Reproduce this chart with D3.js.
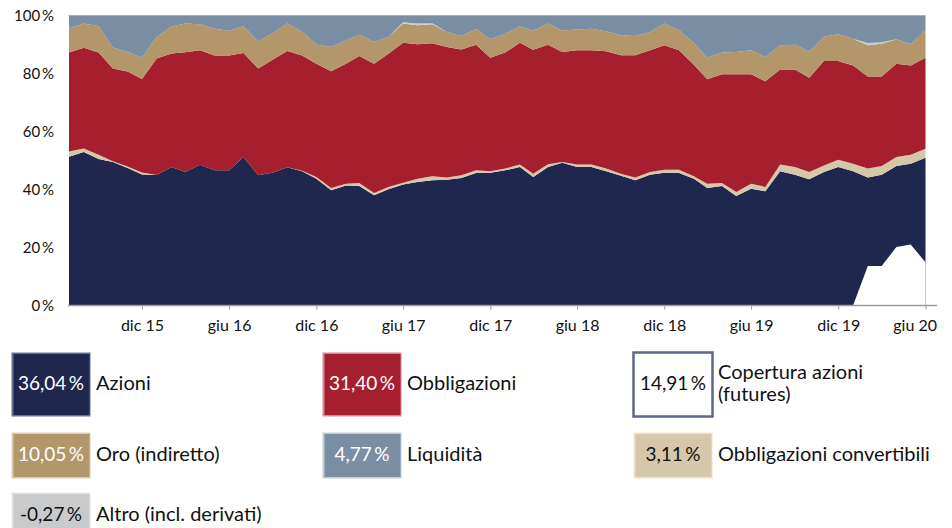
<!DOCTYPE html>
<html lang="it">
<head>
<meta charset="utf-8">
<script src="https://cdn.jsdelivr.net/npm/d3@7"></script>
<style>
  html, body { margin: 0; padding: 0; background: #ffffff; }
  svg { display: block; font-family: Lato, "Open Sans", sans-serif; }
</style>
</head>
<body>
<svg id="chart" width="952" height="528"></svg>
<script>
// Asset allocation, monthly, lug 2015 – giu 2020 (percent of portfolio)
const azioni = [51.3, 52.9, 50.5, 49.5, 47.4, 45.2, 45.0, 47.8, 46.0, 48.5, 46.6, 46.6,
  51.2, 44.9, 45.9, 47.7, 46.3, 43.7, 39.7, 41.4, 41.2, 38.0, 40.1, 41.7,
  42.6, 43.2, 43.4, 44.0, 45.7, 45.8, 46.6, 47.8, 44.3, 47.8, 49.2, 47.8,
  47.8, 46.3, 44.7, 43.2, 45.1, 45.8, 45.7, 43.7, 40.5, 41.2, 37.8, 40.3,
  39.4, 46.3, 45.1, 43.5, 46.0, 47.8, 46.3, 30.5, 31.5, 27.9, 27.9, 36.04];
const copertura = [0, 0, 0, 0, 0, 0, 0, 0, 0, 0, 0, 0,
  0, 0, 0, 0, 0, 0, 0, 0, 0, 0, 0, 0,
  0, 0, 0, 0, 0, 0, 0, 0, 0, 0, 0, 0,
  0, 0, 0, 0, 0, 0, 0, 0, 0, 0, 0, 0,
  0, 0, 0, 0, 0, 0, 0, 13.6, 13.6, 20.2, 21.0, 14.91];
const convertibili = [1.8, 1.2, 1.5, 0.2, 0.5, 0.7, 0, 0, 0, 0, 0, 0,
  0, 0, 0, 0, 0.2, 0.6, 0.8, 0.6, 1.0, 0.8, 0.8, 0.6,
  1.1, 1.4, 0.7, 0.9, 0.9, 0.5, 0.6, 0.8, 1.1, 0.9, 0.3, 0.8,
  0.8, 0.9, 0.7, 0.9, 0.9, 1.0, 1.1, 0.9, 1.5, 1.0, 1.3, 1.7,
  1.5, 2.3, 2.7, 2.5, 2.3, 2.5, 2.6, 3.1, 3.0, 3.1, 3.1, 3.11];
const obbligazioni = [34.1, 34.8, 35.2, 32.0, 32.8, 32.2, 40.2, 39.1, 41.3, 39.5, 39.6, 39.6,
  35.9, 36.8, 38.9, 40.1, 39.7, 39.1, 40.3, 41.4, 43.8, 44.6, 45.9, 48.3,
  46.4, 45.8, 45.0, 43.4, 43.3, 39.1, 40.0, 42.0, 42.8, 41.2, 37.9, 39.4,
  39.4, 40.5, 40.9, 42.2, 42.0, 42.9, 41.2, 38.4, 36.0, 37.5, 40.6, 37.7,
  36.4, 32.8, 33.6, 32.5, 36.0, 34.0, 33.9, 31.8, 30.9, 32.2, 30.8, 31.40];
const oro = [8.3, 8.3, 9.2, 7.3, 6.7, 7.3, 7.4, 9.3, 9.9, 9.0, 9.2, 8.5,
  9.2, 9.3, 9.2, 9.4, 8.2, 6.6, 8.3, 8.0, 7.4, 7.5, 5.8, 6.6,
  6.5, 6.6, 5.2, 4.6, 5.4, 6.4, 6.5, 5.7, 6.5, 7.3, 7.4, 7.2,
  7.4, 6.9, 6.9, 6.6, 6.3, 7.5, 6.9, 7.5, 7.4, 7.5, 7.7, 8.3,
  8.4, 8.3, 8.5, 9.0, 8.5, 9.2, 9.2, 10.7, 11.3, 8.4, 7.3, 10.05];
const altro = [0, 0, 0, 0, 0, 0, 0, 0, 0, 0, 0, 0,
  0, 0, 0, 0, 0, 0, 0, 0, 0, 0, 0, 0.5,
  0.6, 0.3, 0, 0, 0, 0, 0, 0, 0, 0, 0, 0,
  0, 0, 0, 0, 0, 0, 0, 0, 0, 0, 0, 0,
  0, 0, 0, 0, 0, 0, 0, 0.8, 0.5, 0, 0, -0.27];
const liquidita = [4.5, 2.8, 3.6, 11.0, 12.6, 14.6, 7.4, 3.8, 2.8, 3.0, 4.6, 5.3,
  3.7, 9.0, 6.0, 2.8, 5.6, 10.0, 10.9, 8.6, 6.6, 9.1, 7.4, 2.3,
  2.8, 2.7, 5.7, 7.1, 4.7, 8.2, 6.3, 3.7, 5.3, 2.8, 5.2, 4.8,
  4.6, 5.4, 6.8, 7.1, 5.7, 2.8, 5.1, 9.5, 14.6, 12.8, 12.6, 12.0,
  14.3, 10.3, 10.1, 12.5, 7.2, 6.5, 8.0, 9.5, 9.2, 8.2, 9.9, 4.77];

const tickLabels = ["dic 15", "giu 16", "dic 16", "giu 17", "dic 17",
  "giu 18", "dic 18", "giu 19", "dic 19", "giu 20"];
const yTicks = [0, 20, 40, 60, 80, 100];

const mesi = d3.timeMonth.range(new Date(2015, 6, 1), new Date(2020, 6, 1));
// one tick every six months, from December 2015
const tickDates = tickLabels.map((_, k) => new Date(2015, 11 + 6 * k, 1));

const colori = {
  azioni: "#1f274f",
  convertibili: "#d5c8a8",
  obbligazioni: "#a51f2e",
  oro: "#b3976a",
  altro: "#c9cacc",
  liquidita: "#7a8fa3"
};

const svg = d3.select("#chart");
const x = d3.scaleTime().domain([mesi[0], mesi[mesi.length - 1]]).range([69, 925.5]);
const y = d3.scaleLinear().domain([0, 100]).range([305.5, 15.5]);

// gross equity exposure = net equity + hedged part
const righe = mesi.map((m, i) => ({
  mese: m,
  azioni: azioni[i] + copertura[i],
  convertibili: convertibili[i],
  obbligazioni: obbligazioni[i],
  oro: oro[i],
  altro: altro[i],
  liquidita: liquidita[i]
}));

const chiavi = ["azioni", "convertibili", "obbligazioni", "oro", "altro", "liquidita"];
const serie = d3.stack().keys(chiavi)(righe);

const area = d3.area()
  .x(d => x(d.data.mese))
  .y0(d => y(d[0]))
  .y1(d => y(d[1]));

// top reference line at 100 %
svg.append("line")
  .attr("x1", 68).attr("x2", 926)
  .attr("y1", y(100)).attr("y2", y(100))
  .attr("stroke", "#cfd3d8").attr("stroke-width", 1.2);

svg.append("g").selectAll("path")
  .data(serie)
  .join("path")
  .attr("fill", d => colori[d.key])
  .attr("d", area);

// equity futures hedge, shown as a cut-out from the equity layer
const areaCopertura = d3.area()
  .defined((d, i) => copertura[i] > 0 || (copertura[i + 1] || 0) > 0)
  .x((d, i) => x(mesi[i]))
  .y0(y(0))
  .y1(d => y(d));
svg.append("path")
  .datum(copertura)
  .attr("fill", "#ffffff")
  .attr("d", areaCopertura);

// x axis
const xAxis = d3.axisBottom(x)
  .tickValues(tickDates)
  .tickFormat((d, i) => tickLabels[i])
  .tickSize(4)
  .tickPadding(10);
const gx = svg.append("g")
  .attr("transform", `translate(0,${y(0)})`)
  .call(xAxis);
gx.select(".domain").remove();
gx.insert("line", ":first-child")
  .attr("x1", 68).attr("x2", 937)
  .attr("stroke", "#9a9a9a").attr("stroke-width", 1.5);
gx.selectAll(".tick line").attr("stroke", "#9a9a9a");
gx.selectAll(".tick text")
  .attr("fill", "#111")
  .style("font-size", "16px")
  .style("font-family", "Lato, 'Open Sans', sans-serif");
// keep the last label inside the frame
gx.selectAll(".tick text")
  .filter((d, i) => i === tickLabels.length - 1)
  .attr("text-anchor", "end")
  .attr("x", 11);

// y axis labels
const yAxis = d3.axisLeft(y)
  .tickValues(yTicks)
  .tickFormat(d => d + "\u2009%")
  .tickSize(0)
  .tickPadding(0);
const gy = svg.append("g")
  .attr("transform", "translate(54,0)")
  .call(yAxis);
gy.select(".domain").remove();
gy.selectAll(".tick text")
  .attr("fill", "#111")
  .style("font-size", "15px")
  .style("font-family", "Lato, 'Open Sans', sans-serif");

// legend
const fmt = v => v.toFixed(2).replace(".", ",") + "\u2009%";
const ultimo = a => a[a.length - 1];
const legenda = [
  { val: ultimo(azioni), lab: ["Azioni"], fill: colori.azioni, bordo: "#6a7190", testo: "#fff", col: 0, row: 0 },
  { val: ultimo(obbligazioni), lab: ["Obbligazioni"], fill: colori.obbligazioni, bordo: "#d48a93", testo: "#fff", col: 1, row: 0 },
  { val: ultimo(copertura), lab: ["Copertura azioni", "(futures)"], fill: "#ffffff", bordo: "#5f6786", testo: "#111", col: 2, row: 0, spesso: true },
  { val: ultimo(oro), lab: ["Oro (indiretto)"], fill: colori.oro, bordo: "#dccbae", testo: "#fff", col: 0, row: 1 },
  { val: ultimo(liquidita), lab: ["Liquidità"], fill: colori.liquidita, bordo: "#c2ccd6", testo: "#fff", col: 1, row: 1 },
  { val: ultimo(convertibili), lab: ["Obbligazioni convertibili"], fill: colori.convertibili, bordo: "#ece3d0", testo: "#111", col: 2, row: 1 },
  { val: ultimo(altro), lab: ["Altro (incl. derivati)"], fill: colori.altro, bordo: "#e2e3e5", testo: "#111", col: 0, row: 2 }
];
const colX = [11, 322, 633];
const rowY = [352, 432, 492];
const rowH = [64, 46, 46];

const gl = svg.append("g");
legenda.forEach(d => {
  const x0 = colX[d.col], y0 = rowY[d.row], h = rowH[d.row];
  const g = gl.append("g").attr("transform", `translate(${x0},${y0})`);
  g.append("rect")
    .attr("x", 0.5).attr("y", 0.5)
    .attr("width", 79).attr("height", h)
    .attr("fill", d.spesso ? "#fff" : d.bordo)
    .attr("stroke", d.spesso ? d.bordo : "none")
    .attr("stroke-width", d.spesso ? 2.5 : 0);
  if (!d.spesso) {
    g.append("rect")
      .attr("x", 2.5).attr("y", 2).attr("width", 76).attr("height", h - 3)
      .attr("fill", d.fill);
  }
  g.append("text")
    .attr("x", 40).attr("y", h / 2 + 1)
    .attr("text-anchor", "middle")
    .attr("dominant-baseline", "middle")
    .attr("fill", d.testo)
    .style("font-size", "19px")
    .text(fmt(d.val));
  const t = g.append("text")
    .attr("x", 85)
    .attr("fill", "#111")
    .style("font-size", "20px");
  if (d.lab.length === 1) {
    t.append("tspan").attr("x", 85).attr("y", h / 2 + 1)
      .attr("dominant-baseline", "middle").text(d.lab[0]);
  } else {
    d.lab.forEach((s, k) => {
      t.append("tspan").attr("x", 85).attr("y", h / 2 - 10 + k * 22)
        .attr("dominant-baseline", "middle").text(s);
    });
  }
});
</script>
</body>
</html>
